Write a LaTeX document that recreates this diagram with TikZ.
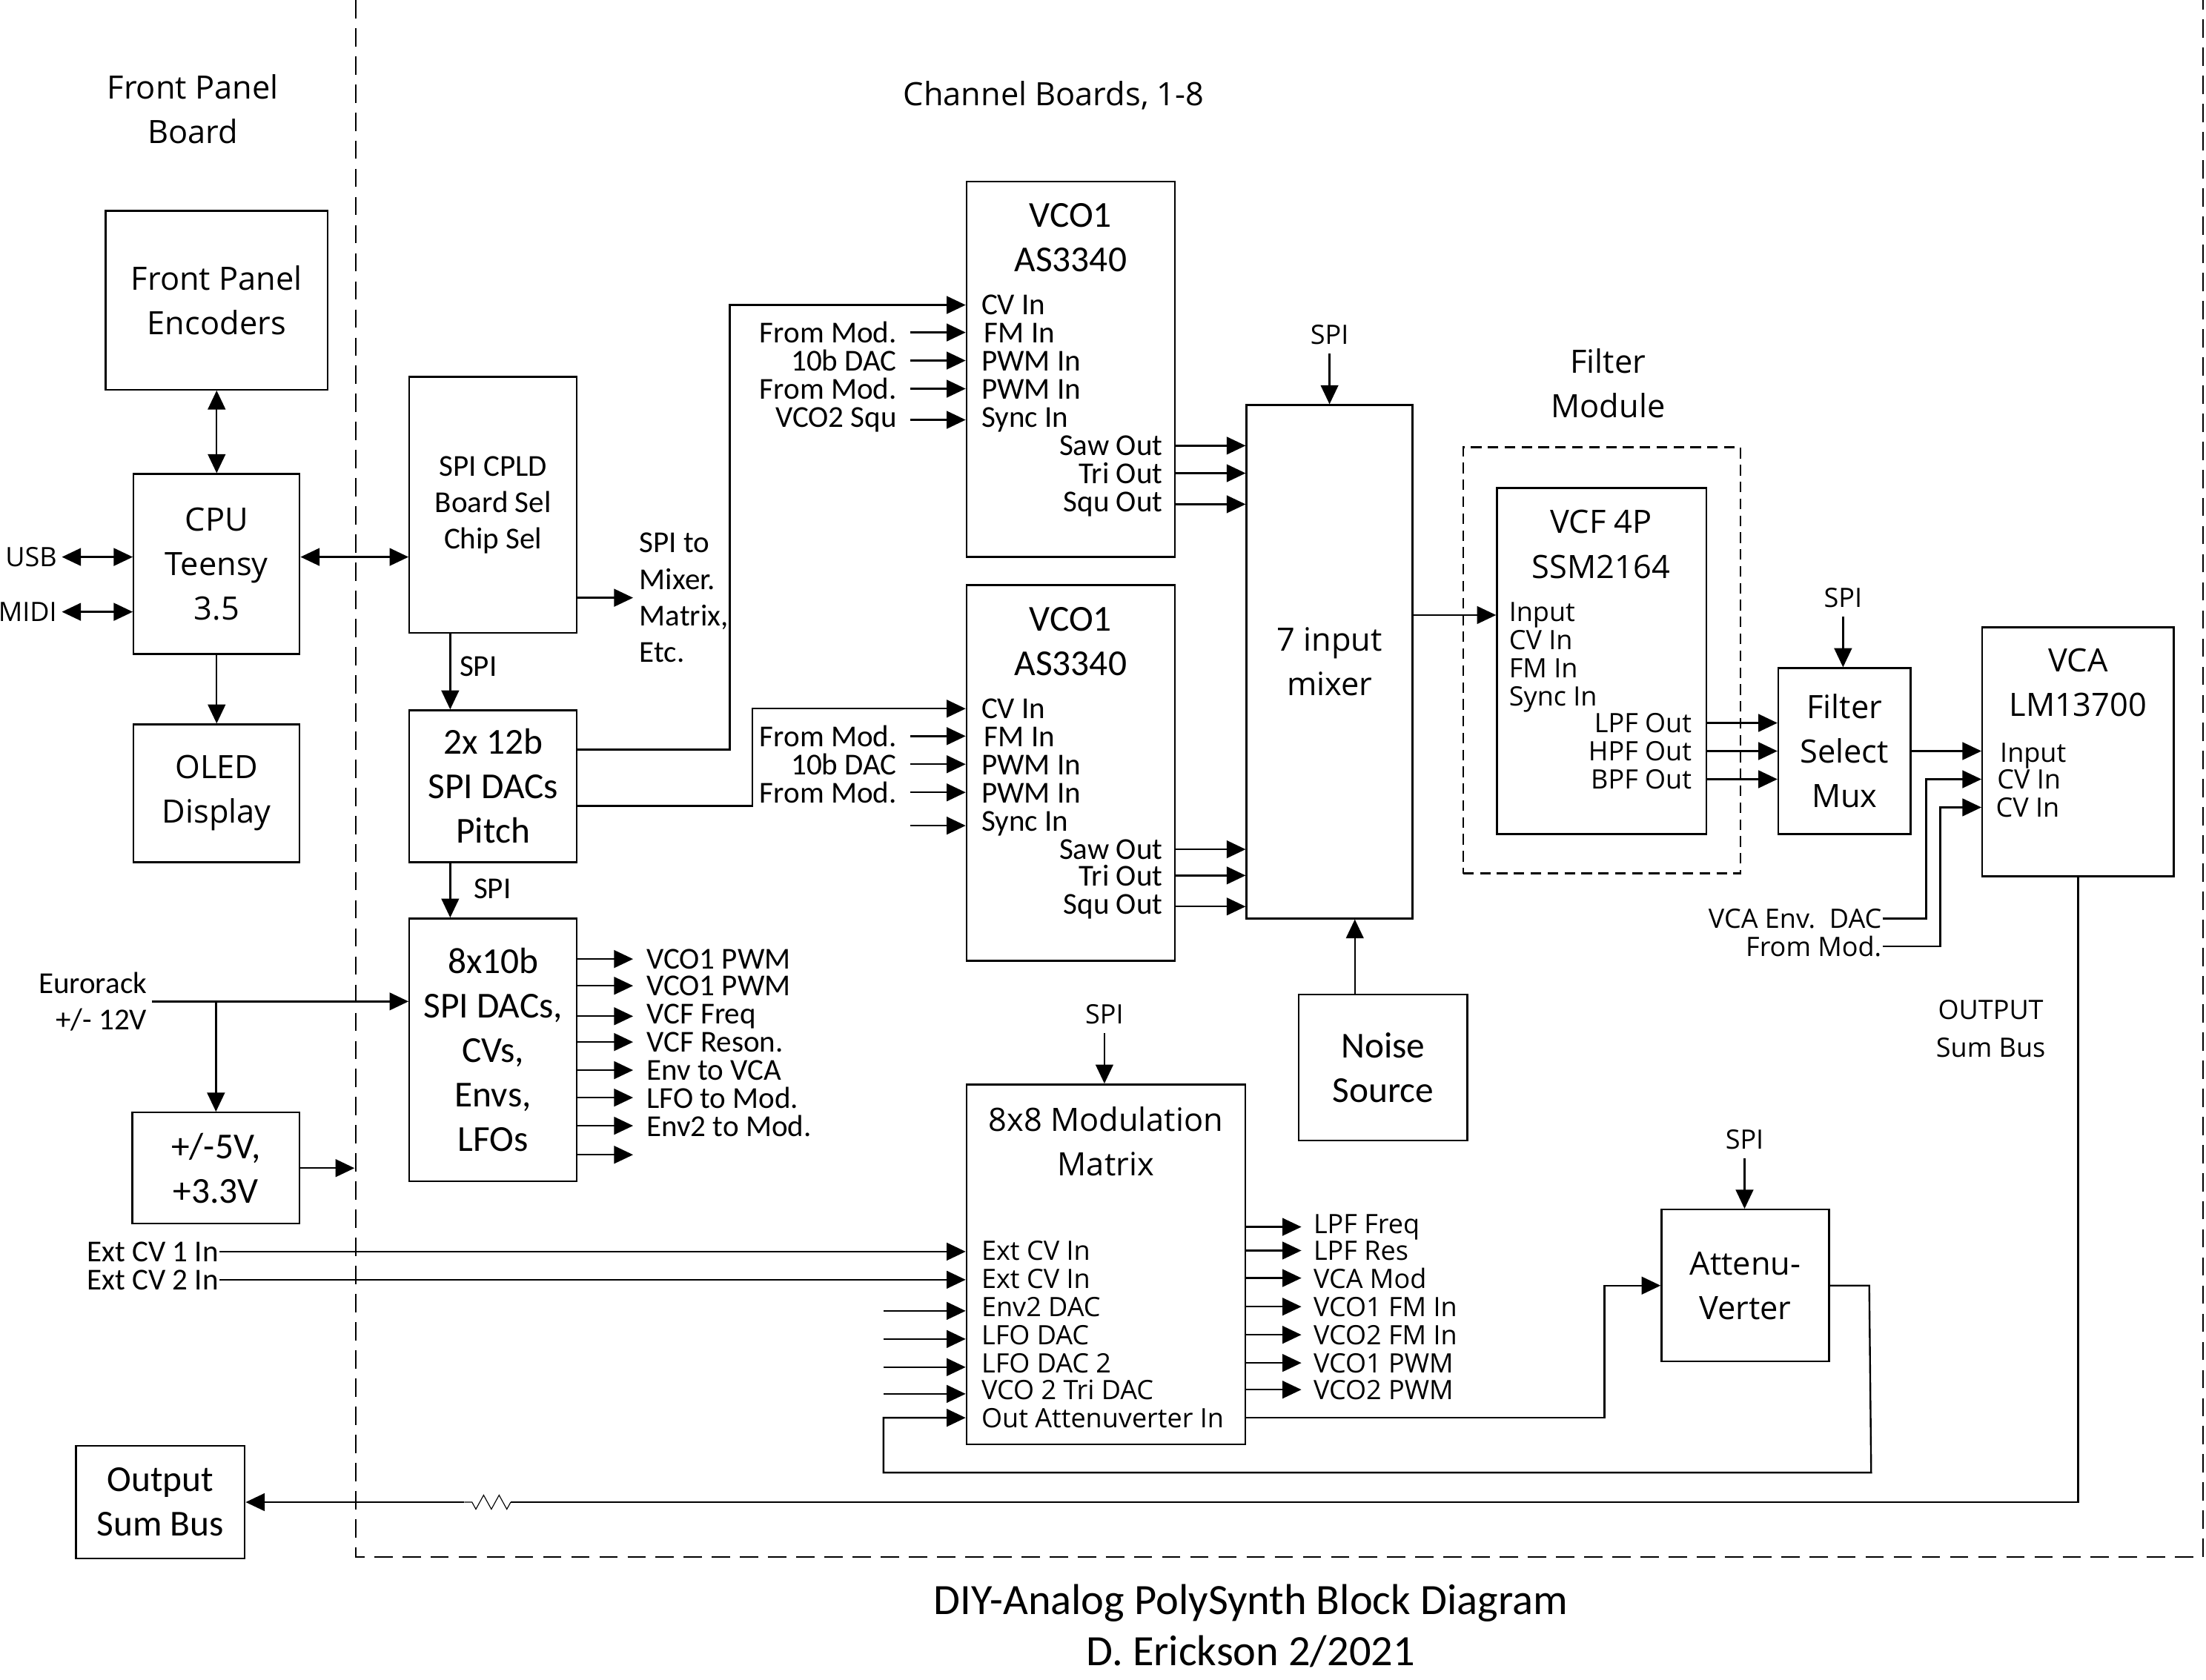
\documentclass[tikz,border=0pt]{standalone}
\usepackage{fontspec}
\usetikzlibrary{arrows.meta, decorations.pathmorphing}
\newfontfamily\osfam{Open Sans}
\newfontfamily\cafam{Carlito}
\newcommand{\osbig}{\osfam\fontsize{13}{18}\selectfont}
\newcommand{\ossmall}{\osfam\fontsize{10.8}{15.2}\selectfont}
\newcommand{\casmall}{\cafam\fontsize{12.3}{14.8}\selectfont}
\newcommand{\cabig}{\cafam\fontsize{14.8}{18}\selectfont}
\newcommand{\catitle}{\cafam\fontsize{17.5}{20.5}\selectfont}

\begin{document}
\begin{tikzpicture}[x=0.2mm, y=-0.2mm, line width=0.25mm,
    blk/.style={draw, inner sep=0pt, align=center},
    arr/.style={-{Triangle[length=2.7mm, width=2.5mm]}},
    dbl/.style={{Triangle[length=2.7mm, width=2.5mm]}-{Triangle[length=2.7mm, width=2.5mm]}},
    lw/.style={inner sep=0pt, anchor=mid west, yshift=-0.6mm},
    le/.style={inner sep=0pt, anchor=mid east, yshift=-0.6mm}]
        \useasboundingbox (0,0) rectangle (1568,1194);

        % Board outlines
        \draw[dash pattern=on 2.6mm off 1.4mm] (253,0) -- (253,1107) -- (1566,1107) -- (1566,0);
        \node[font=\osbig, align=center] (fpb) at (137,77.5) {Front Panel\\Board};
        \node[font=\osbig] (chb) at (749,68) {Channel Boards, 1-8};

        % Front panel board
        \node[blk, font=\osbig, minimum width=31.6mm, minimum height=25.4mm] (enc) at (154,213.5) {Front Panel\\Encoders};
        \node[blk, font=\osbig, minimum width=23.6mm, minimum height=25.6mm] (cpu) at (154,401) {CPU\\Teensy\\3.5};
        \node[blk, font=\osbig, minimum width=23.6mm, minimum height=19.6mm] (oled) at (154,564) {OLED\\Display};
        \node[le, inner xsep=0.6mm, font=\ossmall] (usb) at (44,396) {USB};
        \node[le, inner xsep=0.6mm, font=\ossmall] (midi) at (44,435) {MIDI};
        \draw[dbl] (enc.south) -- (cpu.north);
        \draw[arr] (cpu.south) -- (oled.north);
        \draw[dbl] (usb.east) -- (usb.east -| cpu.west);
        \draw[dbl] (midi.east) -- (midi.east -| cpu.west);

        % CPLD and DACs
        \node[blk, font=\casmall, minimum width=23.8mm, minimum height=36.4mm] (cpld) at (350.5,359) {SPI CPLD\\Board Sel\\Chip Sel};
        \node[blk, font=\cabig, minimum width=23.8mm, minimum height=21.6mm] (dacp) at (350.5,559) {2x 12b\\SPI DACs\\Pitch};
        \node[blk, font=\cabig, minimum width=23.8mm, minimum height=37.4mm] (dacs) at (350.5,746.5) {8x10b\\SPI DACs,\\CVs,\\Envs,\\LFOs};
        \node[font=\casmall, align=left, anchor=west, inner ysep=0pt, inner xsep=0.8mm] (spito) at (450,425) {SPI to\\Mixer.\\Matrix,\\Etc.};
        \node[font=\casmall] (spi1) at (340,474) {SPI};
        \node[font=\casmall] (spi2) at (350,632) {SPI};
        \draw[dbl] ([yshift=1mm]cpu.east) -- ([yshift=1mm]cpu.east -| cpld.west);
        \draw[arr] (cpld.east |- spito.west) -- (spito.west);
        \draw[arr] ([xshift=-6.1mm]cpld.south) -- ([xshift=-6.1mm]dacp.north);
        \draw[arr] ([xshift=-6.1mm]dacp.south) -- ([xshift=-6.1mm]dacs.north);

        \node[lw, inner xsep=1.8mm, font=\casmall] (dq1) at (450,682) {VCO1 PWM};
        \node[lw, inner xsep=1.8mm, font=\casmall] (dq2) at (450,701) {VCO1 PWM};
        \node[lw, inner xsep=1.8mm, font=\casmall] (dq3) at (450,721) {VCF Freq};
        \node[lw, inner xsep=1.8mm, font=\casmall] (dq4) at (450,741) {VCF Reson.};
        \node[lw, inner xsep=1.8mm, font=\casmall] (dq5) at (450,761) {Env to VCA};
        \node[lw, inner xsep=1.8mm, font=\casmall] (dq6) at (450,781) {LFO to Mod.};
        \node[lw, inner xsep=1.8mm, font=\casmall] (dq7) at (450,801) {Env2 to Mod.};
        \coordinate (dq8) at (450,821);
        \foreach \n in {1,...,8} \draw[arr] (dacs.east |- dq\n.west) -- (dq\n.west);

        % Power
        \node[font=\casmall, align=right, anchor=east, inner xsep=0.6mm] (euro) at (108,712) {Eurorack\\+/- 12V};
        \node[blk, font=\cabig, minimum width=23.8mm, minimum height=15.8mm] (psu) at (153.5,830.5) {+/-5V,\\+3.3V};
        \coordinate (pwr) at (252,830.5);
        \draw[arr] (euro.east) -- (euro.east -| dacs.west);
        \draw[arr] (euro.east -| psu.north) -- (psu.north);
        \draw[arr] (psu.east) -- (pwr);

        % Mixer and noise
        \node[blk, font=\osbig, minimum width=23.6mm, minimum height=73mm] (mix) at (945,470.5) {7 input\\mixer};
        \node[font=\ossmall] (spim) at (945,238) {SPI};
        \draw[arr] (spim.south) -- (spim.south |- mix.north);
        \node[blk, font=\cabig, minimum width=24mm, minimum height=20.8mm] (noise) at (983,759) {Noise\\Source};
        \draw[arr] ([xshift=-4mm]noise.north) -- ([xshift=-4mm]noise.north |- mix.south);

        % Upper VCO
        \node[blk, minimum width=29.6mm, minimum height=53.4mm] (vcoa) at (761,262.5) {};
        \node[font=\cabig, align=center] (vcoat) at (761,169) {VCO1\\AS3340};
        \node[lw, font=\casmall] (cva) at (697,217) {CV In};
        \node[lw, font=\casmall] (fma) at (699,237) {FM In};
        \node[lw, font=\casmall] (pwa) at (697,257) {PWM In};
        \node[lw, font=\casmall] (pwa2) at (697,277) {PWM In};
        \node[lw, font=\casmall] (sya) at (697,297) {Sync In};
        \node[le, font=\casmall] (sawa) at (827,317) {Saw Out};
        \node[le, font=\casmall] (tria) at (827,337) {Tri Out};
        \node[le, font=\casmall] (squa) at (827,357) {Squ Out};
        \node[le, inner xsep=1.8mm, font=\casmall] (ina1) at (647,237) {From Mod.};
        \node[le, inner xsep=1.8mm, font=\casmall] (ina2) at (647,257) {10b DAC};
        \node[le, inner xsep=1.8mm, font=\casmall] (ina3) at (647,277) {From Mod.};
        \node[le, inner xsep=1.8mm, font=\casmall] (ina4) at (647,297) {VCO2 Squ};
        \foreach \n in {1,...,4} \draw[arr] (ina\n.east) -- (ina\n.east -| vcoa.west);
        \foreach \n in {sawa,tria,squa} \draw[arr] (\n.east -| vcoa.east) -- (\n.east -| mix.west);
        \draw[arr] ([yshift=5.2mm]dacp.east) -- ++(108,0) |- (vcoa.west |- cva);

        % Lower VCO
        \node[blk, minimum width=29.6mm, minimum height=53.4mm] (vcob) at (761,549.5) {};
        \node[font=\cabig, align=center] (vcobt) at (761,456) {VCO1\\AS3340};
        \node[lw, font=\casmall] (cvb) at (697,504) {CV In};
        \node[lw, font=\casmall] (fmb) at (699,524) {FM In};
        \node[lw, font=\casmall] (pwb) at (697,544) {PWM In};
        \node[lw, font=\casmall] (pwb2) at (697,564) {PWM In};
        \node[lw, font=\casmall] (syb) at (697,584) {Sync In};
        \node[le, font=\casmall] (sawb) at (827,604) {Saw Out};
        \node[le, font=\casmall] (trib) at (827,623) {Tri Out};
        \node[le, font=\casmall] (squb) at (827,643) {Squ Out};
        \node[le, inner xsep=1.8mm, font=\casmall] (inb1) at (647,524) {From Mod.};
        \node[le, inner xsep=1.8mm, font=\casmall] (inb2) at (647,544) {10b DAC};
        \node[le, inner xsep=1.8mm, font=\casmall] (inb3) at (647,564) {From Mod.};
        \coordinate (inb4) at (647,587);
        \foreach \n in {1,...,4} \draw[arr] (inb\n.east) -- (inb\n.east -| vcob.west);
        \foreach \n in {sawb,trib,squb} \draw[arr] (\n.east -| vcob.east) -- (\n.east -| mix.west);
        \draw[arr] ([yshift=-2.8mm]dacp.east) -- ++(124,0) |- (vcob.west |- cvb);

        % Filter module
        \node[font=\osbig, align=center] (fmod) at (1143,272.5) {Filter\\Module};
        \node[draw, dash pattern=on 1.5mm off 0.9mm, minimum width=39.4mm, minimum height=60.6mm] (fbox) at (1138.5,469.5) {};
        \node[blk, minimum width=29.8mm, minimum height=49.2mm] (vcf) at (1138.5,470) {};
        \node[font=\osbig, align=center] (vcft) at (1138,387) {VCF 4P\\SSM2164};
        \node[lw, font=\ossmall] (vcfin) at (1072,435) {Input};
        \node[lw, font=\ossmall] (vcfcv) at (1072,455) {CV In};
        \node[lw, font=\ossmall] (vcffm) at (1072,475) {FM In};
        \node[lw, font=\ossmall] (vcfsy) at (1072,495) {Sync In};
        \node[le, font=\ossmall] (lpo) at (1203,514) {LPF Out};
        \node[le, font=\ossmall] (hpo) at (1203,534) {HPF Out};
        \node[le, font=\ossmall] (bpo) at (1203,554) {BPF Out};
        \draw[arr] (mix.east |- vcfin) -- (vcf.west |- vcfin);

        % Mux and VCA
        \node[blk, font=\osbig, minimum width=18.8mm, minimum height=23.6mm] (mux) at (1311,534) {Filter\\Select\\Mux};
        \node[font=\ossmall] (spix) at (1310,425) {SPI};
        \draw[arr] (spix.south) -- (spix.south |- mux.north);
        \foreach \n in {lpo,hpo,bpo} \draw[arr] (\n.east -| vcf.east) -- (\n.east -| mux.west);
        \node[blk, minimum width=27.2mm, minimum height=35.4mm] (vca) at (1477,534.5) {};
        \node[font=\osbig, align=center] (vcat) at (1477,485.5) {VCA\\LM13700};
        \node[lw, font=\ossmall] (vcain) at (1421,535) {Input};
        \node[lw, font=\ossmall] (vcacv1) at (1419,554) {CV In};
        \node[lw, font=\ossmall] (vcacv2) at (1418,574) {CV In};
        \draw[arr] (mux.east) -- (mux.east -| vca.west);
        \node[le, font=\ossmall] (vcaenv) at (1338,653) {VCA Env.\ \ DAC};
        \node[le, font=\ossmall] (vcamod) at (1338,673) {From Mod.};
        \draw[arr] (vcaenv.east) -- ++(31,0) |- (vca.west |- vcacv1);
        \draw[arr] (vcamod.east) -- ++(41,0) |- (vca.west |- vcacv2);
        \node[font=\ossmall, align=center] (outl) at (1415,731.5) {OUTPUT\\Sum Bus};

        % Output sum bus
        \node[blk, font=\cabig, minimum width=24mm, minimum height=16mm] (outbus) at (114,1068) {Output\\Sum Bus};
        \coordinate (ra) at (363,1068);
        \coordinate (rb) at (330,1068);
        \draw (vca.south) |- (ra);
        \draw[line width=0.12mm, decorate, decoration={zigzag, segment length=2.2mm, amplitude=1mm}] (ra) -- (rb);
        \draw[arr] (rb) -- (outbus.east);

        % Modulation matrix
        \node[blk, minimum width=39.6mm, minimum height=51.2mm] (mod) at (786,899) {};
        \node[font=\osbig, align=center] (modt) at (786,811.5) {8x8 Modulation\\Matrix};
        \node[font=\ossmall] (spimod) at (785,721) {SPI};
        \draw[arr] (spimod.south) -- (spimod.south |- mod.north);
        \node[lw, font=\ossmall] (mi1) at (697,889) {Ext CV In};
        \node[lw, font=\ossmall] (mi2) at (697,909) {Ext CV In};
        \node[lw, font=\ossmall] (mi3) at (697,929) {Env2 DAC};
        \node[lw, font=\ossmall] (mi4) at (697,949) {LFO DAC};
        \node[lw, font=\ossmall] (mi5) at (697,969) {LFO DAC 2};
        \node[lw, font=\ossmall] (mi6) at (697,988) {VCO 2 Tri DAC};
        \node[lw, font=\ossmall] (mi7) at (697,1008) {Out Attenuverter In};
        \node[le, font=\casmall] (ext1) at (156,890) {Ext CV 1 In};
        \node[le, font=\casmall] (ext2) at (156,910) {Ext CV 2 In};
        \draw[arr] (ext1.east) -- (ext1.east -| mod.west);
        \draw[arr] (ext2.east) -- (ext2.east -| mod.west);
        \coordinate (mc3) at (628,932);
        \coordinate (mc4) at (628,952);
        \coordinate (mc5) at (628,972);
        \coordinate (mc6) at (628,991);
        \foreach \n in {3,...,6} \draw[arr] (mc\n) -- (mc\n -| mod.west);
        \node[lw, inner xsep=1.6mm, font=\ossmall] (mo1) at (925,870) {LPF Freq};
        \node[lw, inner xsep=1.6mm, font=\ossmall] (mo2) at (925,889) {LPF Res};
        \node[lw, inner xsep=1.6mm, font=\ossmall] (mo3) at (925,909) {VCA Mod};
        \node[lw, inner xsep=1.6mm, font=\ossmall] (mo4) at (925,929) {VCO1 FM In};
        \node[lw, inner xsep=1.6mm, font=\ossmall] (mo5) at (925,949) {VCO2 FM In};
        \node[lw, inner xsep=1.6mm, font=\ossmall] (mo6) at (925,969) {VCO1 PWM};
        \node[lw, inner xsep=1.6mm, font=\ossmall] (mo7) at (925,988) {VCO2 PWM};
        \foreach \n in {1,...,7} \draw[arr] (mod.east |- mo\n.west) -- (mo\n.west);

        % Attenuverter loop
        \node[blk, font=\osbig, minimum width=23.8mm, minimum height=21.6mm] (att) at (1240.5,914) {Attenu-\\Verter};
        \node[font=\ossmall] (spiatt) at (1240,810) {SPI};
        \draw[arr] (spiatt.south) -- (spiatt.south |- att.north);
        \draw[arr] (mod.east |- mi7) -| ([xshift=-8mm]att.west) -- (att.west);
        \coordinate (lpa) at (1330,1047);
        \coordinate (lpb) at (628,1047);
        \draw[arr] (att.east) -- ++(28,0) -- (lpa) -- (lpb) |- (mod.west |- mi7);

        \node[font=\catitle, align=center] (title) at (889,1156) {DIY-Analog PolySynth Block Diagram\\D. Erickson 2/2021};
    \end{tikzpicture}
\end{document}
